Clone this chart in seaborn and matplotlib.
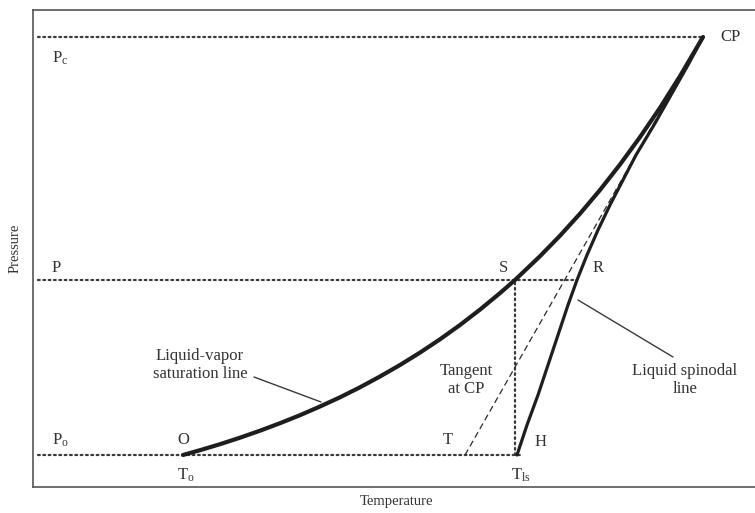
import matplotlib
matplotlib.use("Agg")
import matplotlib.pyplot as plt
import seaborn as sns
import pandas as pd

# Liquid-vapor saturation line (temperature, pressure), from O up to CP
sat_temp = [183, 200, 220, 240, 260, 280, 300, 320, 340, 360, 380, 400, 420, 440,
            460, 480, 500, 515, 540, 560, 580, 600, 620, 640, 660, 680, 703]
sat_pres = [0, 4.8, 10.8, 17.3, 24.3, 31.8, 39.8, 48.5, 57.7, 67.7, 78.5, 90.0, 102.4,
            115.7, 130.0, 145.4, 161.9, 175, 198.8, 219.3, 241.3, 265.0, 290.5, 317.9,
            347.2, 378.9, 418]

# Liquid spinodal line, from H up to CP
spin_temp = [517, 527, 538, 548, 558, 568, 577, 587, 598, 610, 623, 636, 654, 671, 688, 703]
spin_pres = [0, 30, 60, 90, 120, 150, 175, 200, 225, 250, 275, 300, 330, 360, 390, 418]

# Tangent to the saturation line at CP, down to T on the P_o isobar
tan_temp = [465, 703]
tan_pres = [0, 418]

# Reference levels
P_c, P_s, P_o = 418, 175, 0
T_o, T_s, T_ls, T_cp, T_r = 183, 515, 517, 703, 577
iso_start = 38

sns.set_theme(style="white")
plt.rcParams["font.family"] = ["Liberation Serif", "DejaVu Serif"]
plt.rcParams["mathtext.default"] = "regular"

fig = plt.figure(figsize=(7.55, 5.13), dpi=100)
ax = fig.add_axes([33 / 755, 26 / 513, 727 / 755, 477 / 513])

sat = pd.DataFrame({"T": sat_temp, "P": sat_pres})
spin = pd.DataFrame({"T": spin_temp, "P": spin_pres})
tan = pd.DataFrame({"T": tan_temp, "P": tan_pres})

dot_kw = dict(color="#3a3a3a", lw=1.6, linestyle=(0, (0.8, 1.6)), dash_capstyle="round")

# isobars and the isotherm through S
ax.plot([iso_start, T_cp], [P_c, P_c], **dot_kw)
ax.plot([iso_start, T_r], [P_s, P_s], **dot_kw)
ax.plot([iso_start, T_ls + 5], [P_o, P_o], **dot_kw)
ax.plot([T_s, T_s], [P_o, P_s], **dot_kw)

sns.lineplot(data=tan, x="T", y="P", sort=False, ax=ax, color="#2a2a2a",
             lw=0.9, linestyle=(0, (5, 3)))
sns.lineplot(data=spin, x="T", y="P", sort=False, ax=ax, color="#1e1e1e", lw=2.3)
sns.lineplot(data=sat, x="T", y="P", sort=False, ax=ax, color="#1e1e1e", lw=3.0,
             solid_capstyle="round")

# leader lines for the curve labels
ax.plot([254, 321], [78, 53], color="#3a3a3a", lw=1.0)
ax.plot([578, 673], [155, 98], color="#3a3a3a", lw=1.0)

ax.set_xlim(33, 760)
ax.set_ylim(-32, 445)
ax.set_xticks([])
ax.set_yticks([])
ax.set_xlabel("Temperature", fontsize=10.5, color="#333333", labelpad=6)
ax.set_ylabel("Pressure", fontsize=10.5, color="#333333", labelpad=8)
for side in ["left", "top", "bottom"]:
    ax.spines[side].set_color("#555555")
    ax.spines[side].set_linewidth(1.2)
ax.spines["right"].set_visible(False)

tkw = dict(fontsize=12, color="#333333")
ax.text(52, 397, "P$_c$", ha="left", va="center", **tkw)
ax.text(720, 418, "CP", ha="left", va="center", **tkw)
ax.text(52, 187, "P", ha="left", va="center", **tkw)
ax.text(503, 187, "S", ha="center", va="center", **tkw)
ax.text(598, 187, "R", ha="center", va="center", **tkw)
ax.text(52, 15, "P$_o$", ha="left", va="center", **tkw)
ax.text(183, 15, "O", ha="center", va="center", **tkw)
ax.text(448, 15, "T", ha="center", va="center", **tkw)
ax.text(541, 13, "H", ha="center", va="center", **tkw)
ax.text(186, -20, "T$_o$", ha="center", va="center", **tkw)
ax.text(521, -20, "T$_{ls}$", ha="center", va="center", **tkw)
ax.text(200, 90, "Liquid-vapor\nsaturation line", ha="center", va="center",
        linespacing=1.2, **tkw)
ax.text(466, 75, "Tangent\nat CP", ha="center", va="center", linespacing=1.2, **tkw)
ax.text(685, 75, "Liquid spinodal\nline", ha="center", va="center",
        linespacing=1.2, **tkw)

fig.savefig("out.png", dpi=100)
